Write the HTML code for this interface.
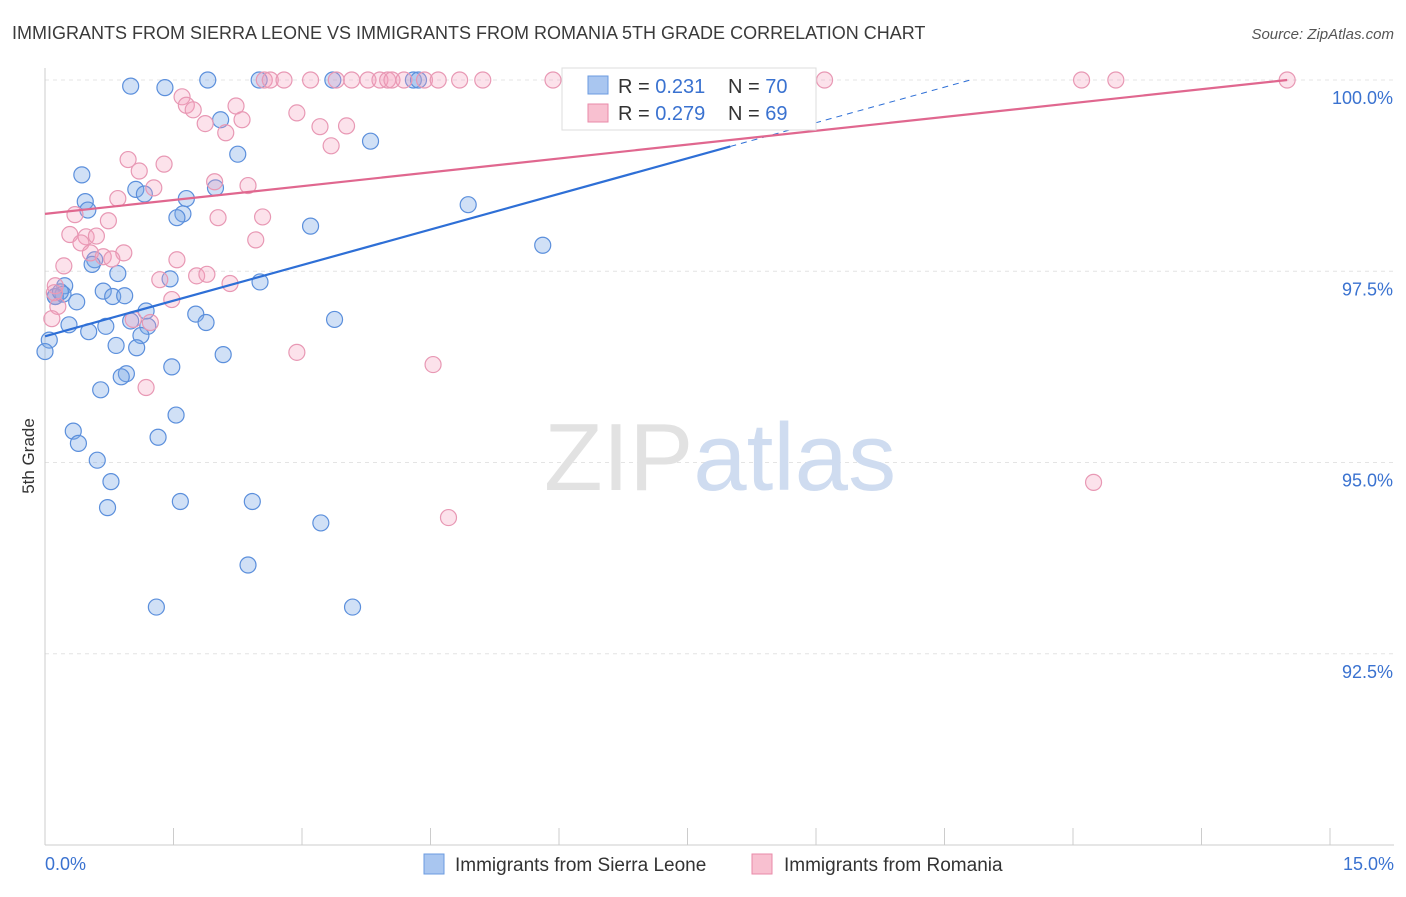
<!DOCTYPE html>
<html><head><meta charset="utf-8"><style>
body{margin:0;background:#fff;font-family:"Liberation Sans",sans-serif;}
svg text{font-family:"Liberation Sans",sans-serif;}
</style></head><body>
<svg id="chart" width="1406" height="892" viewBox="0 0 1406 892" xmlns="http://www.w3.org/2000/svg">
<text x="12" y="39" font-size="18" fill="#3a3a3a">IMMIGRANTS FROM SIERRA LEONE VS IMMIGRANTS FROM ROMANIA 5TH GRADE CORRELATION CHART</text>
<text x="1394" y="39" font-size="15" fill="#555" text-anchor="end" font-style="italic">Source: ZipAtlas.com</text>
<text transform="translate(34,456) rotate(-90)" font-size="17" fill="#333" text-anchor="middle">5th Grade</text>
<g id="grid"></g>
<text x="720" y="490" font-size="96" fill="#e2e2e2" text-anchor="middle" font-family="Liberation Serif">ZIP<tspan fill="#cfdcf0" font-family="Liberation Sans">atlas</tspan></text>
<g id="points"></g>
<g id="lines"></g>
<g>
<rect x="562" y="68" width="254" height="62" fill="#fff" stroke="#ddd"/>
<rect x="588" y="76" width="20" height="18" fill="#a9c6f0" stroke="#6b9be0"/>
<rect x="588" y="104" width="20" height="18" fill="#f8c0d0" stroke="#e98aa8"/>
<text x="618" y="93" font-size="20" fill="#333">R = <tspan fill="#3a72d0">0.231</tspan><tspan x="728">N = </tspan><tspan fill="#3a72d0">70</tspan></text>
<text x="618" y="120" font-size="20" fill="#333">R = <tspan fill="#3a72d0">0.279</tspan><tspan x="728">N = </tspan><tspan fill="#3a72d0">69</tspan></text>
</g>
<g>
<rect x="424" y="854" width="20" height="20" fill="#a9c6f0" stroke="#6b9be0"/>
<text x="455" y="871" font-size="19" fill="#333">Immigrants from Sierra Leone</text>
<rect x="752" y="854" width="20" height="20" fill="#f8c0d0" stroke="#e98aa8"/>
<text x="784" y="871" font-size="19" fill="#333">Immigrants from Romania</text>
</g>
</svg>
<script>
const xTicks=[0,1.5,3,4.5,6,7.5,9,10.5,12,13.5,15];
const yTicks=[92.5,95,97.5,100];
const yTickLabels=["92.5%","95.0%","97.5%","100.0%"];
const xEndLabels=["0.0%","15.0%"];
const blueX=[1.0,1.4,1.9,2.5,3.36,4.3,4.36,6.22,2.05,3.8,2.25,0.43,1.06,1.16,1.99,1.65,0.47,0.5,1.61,1.54,4.94,3.1,5.81,0.58,0.55,0.85,1.46,2.51,0.23,0.12,0.21,0.37,0.68,0.79,0.93,1.18,1.76,1.0,0.28,0.71,1.2,1.88,0.51,1.12,3.38,0.05,0.0,0.83,1.07,2.08,1.48,0.95,0.89,0.65,1.53,0.33,1.32,0.39,0.61,0.77,1.58,2.42,0.73,3.22,2.37,1.3,3.59,0.12,0.18];
const blueY=[99.92,99.9,100,100,100,100,100,99.57,99.48,99.2,99.03,98.76,98.57,98.51,98.59,98.45,98.41,98.3,98.25,98.2,98.37,98.09,97.84,97.65,97.59,97.47,97.4,97.36,97.31,97.17,97.2,97.1,97.24,97.17,97.18,96.98,96.94,96.85,96.8,96.78,96.78,96.83,96.71,96.66,96.87,96.6,96.45,96.53,96.5,96.41,96.25,96.16,96.12,95.95,95.62,95.41,95.33,95.25,95.03,94.75,94.49,94.49,94.41,94.21,93.66,93.11,93.11,97.17,97.23];
const pinkX=[2.56,2.63,2.79,3.1,3.4,3.58,3.77,3.91,4.0,4.05,4.19,4.43,4.59,4.84,5.11,5.93,6.34,9.1,12.1,12.5,14.5,1.6,1.65,1.73,2.23,2.94,2.3,1.87,2.11,3.21,3.52,3.34,0.97,1.39,1.1,1.27,1.98,2.37,0.85,0.35,0.74,2.02,2.54,0.29,0.48,0.42,0.6,2.46,0.53,0.92,0.68,0.78,1.54,0.22,0.12,1.34,1.77,1.89,2.16,0.11,1.48,0.15,0.08,1.03,1.23,2.94,4.53,1.18,12.24,4.71];
const pinkY=[100,100,100,100,100,100,100,100,100,100,100,100,100,100,100,100,100,100,100,100,100,99.78,99.67,99.61,99.66,99.57,99.48,99.43,99.31,99.39,99.4,99.14,98.96,98.9,98.81,98.59,98.67,98.62,98.45,98.24,98.16,98.2,98.21,97.98,97.95,97.87,97.96,97.91,97.74,97.74,97.69,97.66,97.65,97.57,97.31,97.39,97.44,97.46,97.34,97.22,97.13,97.04,96.88,96.87,96.83,96.44,96.28,95.98,94.74,94.28];
const blueLine=[0,96.65,10.8,100];
const pinkLine=[0,98.25,14.5,100];
const X0=45,X1=1330,YT=80,YB=845;
const sx=v=>X0+(v/15)*(X1-X0);
const sy=v=>YT+(100-v)/10*(YB-YT);
const NS="http://www.w3.org/2000/svg";
function mk(tag,attrs,parent){const e=document.createElementNS(NS,tag);for(const k in attrs)e.setAttribute(k,attrs[k]);parent.appendChild(e);return e;}
const grid=document.getElementById('grid');
yTicks.forEach((t,i)=>{
 const l=mk('line',{x1:X0,x2:1394,y1:sy(t),y2:sy(t),stroke:'#e4e4e4','stroke-dasharray':'4,4'},grid);
 
 
 const tx=mk('text',{x:1393,y:sy(t)+24,'font-size':18,fill:'#3a72d0','text-anchor':'end'},grid);
 tx.textContent=yTickLabels[i];
 
 
});
const ax=mk('line',{x1:X0,x2:X0,y1:68,y2:YB,stroke:'#ccc'},grid);


const bx=mk('line',{x1:X0,x2:1394,y1:YB,y2:YB,stroke:'#ccc'},grid);


xTicks.forEach(t=>{
 const l=mk('line',{x1:sx(t),x2:sx(t),y1:YB-17,y2:YB,stroke:'#ccc'},grid);
 
 
});
const xl0=mk('text',{x:45,y:870,'font-size':18,fill:'#3a72d0'},grid);xl0.textContent=xEndLabels[0];


const xl1=mk('text',{x:1394,y:870,'font-size':18,fill:'#3a72d0','text-anchor':'end'},grid);xl1.textContent=xEndLabels[1];


const pts=document.getElementById('points');
blueX.forEach((x,i)=>{
 const c=mk('circle',{cx:sx(x),cy:sy(blueY[i]),r:8,fill:'rgba(120,165,230,0.35)',stroke:'#5b8fdc','stroke-width':1.2},pts);
 
 
});
pinkX.forEach((x,i)=>{
 const c=mk('circle',{cx:sx(x),cy:sy(pinkY[i]),r:8,fill:'rgba(245,160,190,0.3)',stroke:'#e898b4','stroke-width':1.2},pts);
 
 
});
const lines=document.getElementById('lines');
const slope=(blueLine[3]-blueLine[1])/(blueLine[2]-blueLine[0]);
const bMid=8.0;
const b1=mk('line',{x1:sx(blueLine[0]),y1:sy(blueLine[1]),x2:sx(bMid),y2:sy(blueLine[1]+slope*bMid),stroke:'#2e6fd6','stroke-width':2.2},lines);


const b2=mk('line',{x1:sx(bMid),y1:sy(blueLine[1]+slope*bMid),x2:sx(blueLine[2]),y2:sy(blueLine[3]),stroke:'#2e6fd6','stroke-width':1,'stroke-dasharray':'6,5'},lines);


const p1=mk('line',{x1:sx(pinkLine[0]),y1:sy(pinkLine[1]),x2:sx(pinkLine[2]),y2:sy(pinkLine[3]),stroke:'#e0678f','stroke-width':2.2},lines);


</script>
</body></html>
